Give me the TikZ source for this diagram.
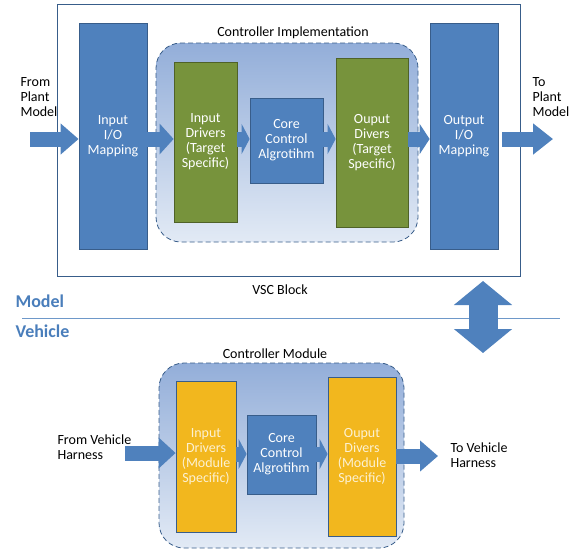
\documentclass[tikz,border=0pt]{standalone}
\usepackage{fontspec}
\setmainfont{Carlito}
\usetikzlibrary{arrows.meta}
\definecolor{bleu}{HTML}{4F81BD}
\definecolor{bleufonce}{HTML}{385D8A}
\definecolor{vert}{HTML}{77933C}
\definecolor{vertfonce}{HTML}{4F6228}
\definecolor{jaune}{HTML}{F2B71E}
\definecolor{zonehaut}{HTML}{93AED9}
\definecolor{zonebas}{HTML}{E2EAF5}
\definecolor{titre}{HTML}{4A7EBB}
\tikzset{
  fleche/.style={draw=bleu, line width=15pt, -{Triangle[length=#1, width=30pt]}},
  fleche/.default=17pt,
}

\begin{document}
\begin{tikzpicture}[
    x=1pt, y=-1pt,
    txt/.style={font=\fontsize{14}{15}\selectfont, align=center},
    bloc/.style={txt, draw=bleufonce, fill=bleu, text=white, inner sep=0pt, line width=0.8pt},
    pilote/.style={bloc, fill=vert, draw=vertfonce},
    module/.style={bloc, fill=jaune, draw=bleufonce, text=white!80!jaune},
    zone/.style={draw=bleufonce, dash pattern=on 5pt off 3pt, rounded corners=25pt,
      top color=zonehaut, bottom color=zonebas, line width=0.8pt},
    doublefleche/.style={draw=bleu, line width=29pt,
      {Triangle[length=24pt, width=57pt]}-{Triangle[length=24pt, width=57pt]}},
  ]
  \useasboundingbox (0,0) rectangle (569,550);

  % partie modele
  \node[draw=bleufonce, line width=0.8pt, minimum width=463pt, minimum height=272pt] (vsc) at (288.5,140) {};
  \node[txt] (vsclabel) at (280,290) {VSC Block};
  \node[zone, minimum width=262pt, minimum height=199pt] (impl) at (287,142.5) {};
  \node[txt] (impllabel) at (293,33) {Controller Implementation};

  \node[bloc, minimum width=68pt, minimum height=226pt] (inmap) at (113,136) {Input\\I/O\\Mapping};
  \node[pilote, minimum width=63pt, minimum height=160pt] (indrv) at (205.5,142) {Input\\Drivers\\(Target\\Specific)};
  \node[bloc, minimum width=73pt, minimum height=85pt] (core) at (286.5,140.5) {Core\\Control\\Algrotihm};
  \node[pilote, minimum width=72pt, minimum height=169pt] (outdrv) at (372,142.5) {Ouput\\Divers\\(Target\\Specific)};
  \node[bloc, minimum width=68pt, minimum height=226pt] (outmap) at (464,136) {Output\\I/O\\Mapping};

  \node[txt, anchor=west, align=left] (from) at (17,97) {From\\Plant\\Model};
  \node[txt, anchor=west, align=left] (to) at (529,97) {To\\Plant\\Model};

  \coordinate (axe) at (0,139);
  \coordinate (depart) at (30,139);
  \coordinate (arrivee) at (553,139);
  \draw[fleche=18pt] (depart) -- (inmap.west |- axe);
  \draw[fleche=14pt] (inmap.east |- axe) -- (indrv.west |- axe);
  \draw[fleche=8pt] (indrv.east |- axe) -- (core.west |- axe);
  \draw[fleche=8pt] (core.east |- axe) -- (outdrv.west |- axe);
  \draw[fleche=10pt] (outdrv.east |- axe) -- (outmap.west |- axe);
  \draw[fleche=20pt] ([xshift=4pt]outmap.east |- axe) -- (arrivee);

  % separation
  \node[font=\fontsize{18}{20}\selectfont\bfseries, text=titre, anchor=west] (model) at (12,301) {Model};
  \node[font=\fontsize{18}{20}\selectfont\bfseries, text=titre, anchor=west] (vehicle) at (12,331) {Vehicle};
  \draw[titre!80, line width=0.8pt] (22,318) -- (560,318);
  \coordinate (haut) at (483,281);
  \coordinate (bas) at (483,353);
  \draw[doublefleche] (haut) -- (bas);

  % partie vehicule
  \node[zone, minimum width=245pt, minimum height=185pt] (modzone) at (281.5,455.5) {};
  \node[txt] (modlabel) at (275,354) {Controller Module};

  \node[module, minimum width=60pt, minimum height=151pt] (indrvb) at (206,456.5) {Input\\Drivers\\(Module\\Specific)};
  \node[bloc, minimum width=69pt, minimum height=79pt] (coreb) at (281.5,454.5) {Core\\Control\\Algrotihm};
  \node[module, minimum width=68pt, minimum height=159pt] (outdrvb) at (362,456.5) {Ouput\\Divers\\(Module\\Specific)};

  \node[txt, anchor=west, align=left] (fromveh) at (54,447.5) {From Vehicle\\Harness};
  \node[txt, anchor=west, align=left] (toveh) at (447,455) {To Vehicle\\Harness};

  \coordinate (axebas) at (0,454);
  \coordinate (departb) at (125,453);
  \coordinate (arriveeb) at (438,456);
  \draw[fleche=17pt] (departb) -- (indrvb.west |- departb);
  \draw[fleche=8pt] (indrvb.east |- axebas) -- (coreb.west |- axebas);
  \draw[fleche=8pt] (coreb.east |- axebas) -- (outdrvb.west |- axebas);
  \draw[fleche=18pt] (outdrvb.east |- arriveeb) -- (arriveeb);
\end{tikzpicture}
\end{document}
